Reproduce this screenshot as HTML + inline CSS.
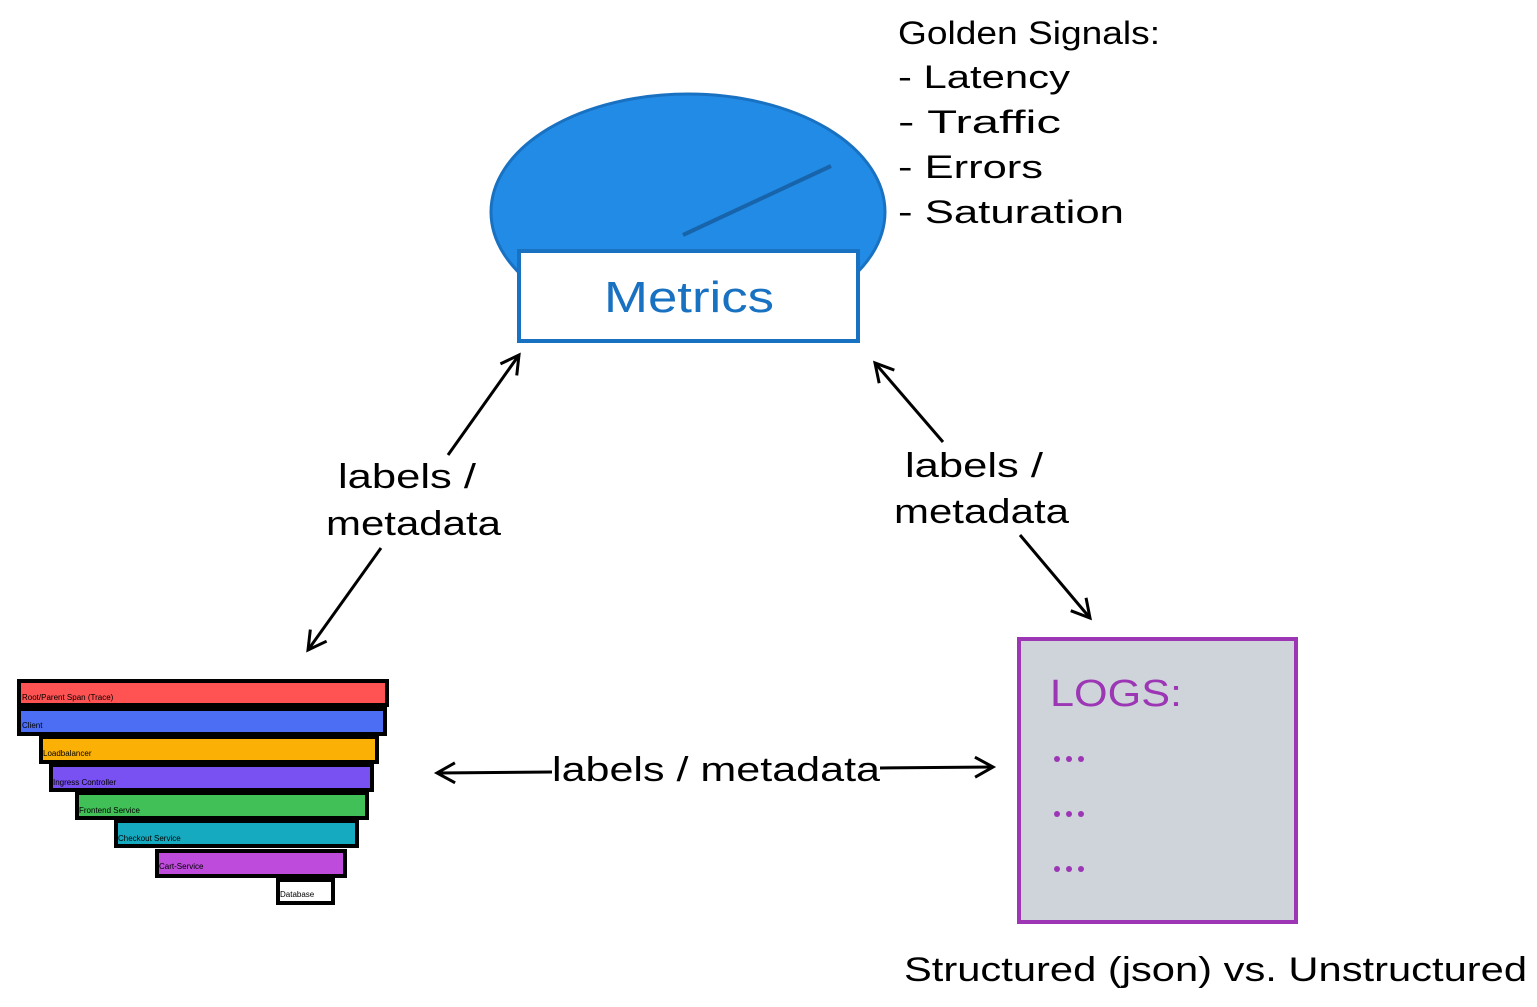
<!DOCTYPE html>
<html><head><meta charset="utf-8"><style>
html,body{margin:0;padding:0;background:#fff;}
svg text{font-family:"Liberation Sans",sans-serif;}
</style></head><body>
<svg width="1537" height="1002" viewBox="0 0 1537 1002" xmlns="http://www.w3.org/2000/svg">
<defs><marker id="a" markerWidth="24" markerHeight="24" refX="20" refY="12" orient="auto" markerUnits="userSpaceOnUse"><path d="M2,2 L20,12 L2,22" fill="none" stroke="#000" stroke-width="3"/></marker></defs>
<ellipse cx="688" cy="212" rx="197" ry="118" fill="#228be6" stroke="#1971c2" stroke-width="3"/>
<line x1="683" y1="235" x2="831" y2="166" stroke="#1864ab" stroke-width="4"/>
<rect x="519" y="251" width="339" height="90" fill="#fff" stroke="#1971c2" stroke-width="4"/>
<text x="604" y="312" font-size="44" fill="#1971c2" textLength="170" lengthAdjust="spacingAndGlyphs">Metrics</text>
<g font-size="32" fill="#000">
<text x="898" y="44" textLength="262" lengthAdjust="spacingAndGlyphs">Golden Signals:</text>
<text x="898" y="88" textLength="172" lengthAdjust="spacingAndGlyphs">- Latency</text>
<text x="898" y="133" textLength="163" lengthAdjust="spacingAndGlyphs">- Traffic</text>
<text x="898" y="178" textLength="145" lengthAdjust="spacingAndGlyphs">- Errors</text>
<text x="898" y="223" textLength="226" lengthAdjust="spacingAndGlyphs">- Saturation</text>
</g>
<g stroke="#000" stroke-width="3" fill="none">
<line x1="448" y1="455" x2="519" y2="355" marker-end="url(#a)"/>
<line x1="381" y1="548" x2="308" y2="650" marker-end="url(#a)"/>
<line x1="943" y1="442" x2="875" y2="363" marker-end="url(#a)"/>
<line x1="1020" y1="535" x2="1090" y2="618" marker-end="url(#a)"/>
<line x1="552" y1="772" x2="437" y2="773" marker-end="url(#a)"/>
<line x1="880" y1="768" x2="993" y2="767" marker-end="url(#a)"/>
</g>
<g font-size="34" fill="#000">
<text x="338" y="488" textLength="138" lengthAdjust="spacingAndGlyphs">labels /</text>
<text x="326" y="535" textLength="175" lengthAdjust="spacingAndGlyphs">metadata</text>
<text x="905" y="477" textLength="138" lengthAdjust="spacingAndGlyphs">labels /</text>
<text x="894" y="523" textLength="175" lengthAdjust="spacingAndGlyphs">metadata</text>
<text x="552" y="781" textLength="328" lengthAdjust="spacingAndGlyphs">labels / metadata</text>
</g>
<rect x="1019" y="639" width="277" height="283" fill="#ced4da" stroke="#9c36b5" stroke-width="4"/>
<text x="1050" y="706" font-size="38" fill="#9c36b5" textLength="132" lengthAdjust="spacingAndGlyphs">LOGS:</text>
<g fill="#9c36b5"><circle cx="1057" cy="759" r="3"/><circle cx="1069" cy="759" r="3"/><circle cx="1081" cy="759" r="3"/>
<circle cx="1057" cy="814" r="3"/><circle cx="1069" cy="814" r="3"/><circle cx="1081" cy="814" r="3"/>
<circle cx="1057" cy="869" r="3"/><circle cx="1069" cy="869" r="3"/><circle cx="1081" cy="869" r="3"/></g>
<text x="904" y="981" font-size="34" fill="#000" textLength="623" lengthAdjust="spacingAndGlyphs">Structured (json) vs. Unstructured</text>
<g stroke="#000" stroke-width="4">
<rect x="19" y="681" width="368" height="24" fill="#ff5252"/>
<rect x="19" y="709" width="366" height="25" fill="#4c6ef5"/>
<rect x="41" y="737" width="336" height="25" fill="#fab005"/>
<rect x="51" y="765" width="321" height="25" fill="#7950f2"/>
<rect x="77" y="793" width="290" height="25" fill="#40c057"/>
<rect x="116" y="821" width="241" height="25" fill="#15aabf"/>
<rect x="157" y="851" width="188" height="25" fill="#be4bdb"/>
<rect x="278" y="880" width="55" height="23" fill="#fff"/>
</g>
<g font-size="8" fill="#000">
<text x="22" y="700">Root/Parent Span (Trace)</text>
<text x="22" y="728">Client</text>
<text x="43" y="756">Loadbalancer</text>
<text x="53" y="785">Ingress Controller</text>
<text x="79" y="813">Frontend Service</text>
<text x="118" y="841">Checkout Service</text>
<text x="159" y="869">Cart-Service</text>
<text x="280" y="897">Database</text>
</g>
</svg>
</body></html>
